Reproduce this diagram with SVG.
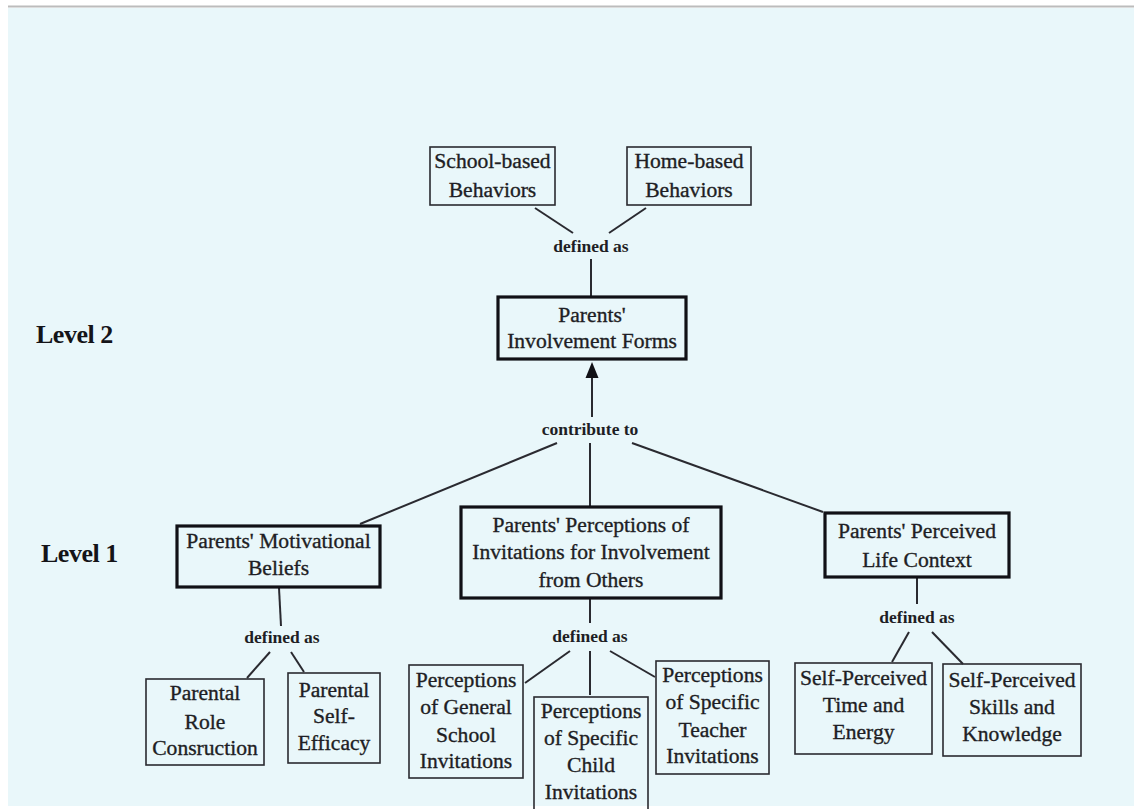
<svg xmlns="http://www.w3.org/2000/svg" width="1134" height="809" viewBox="0 0 1134 809">
  <style>
    .node text { font-family: "Liberation Serif", "Times New Roman", serif; font-size: 21.6px; fill: #1e1e24; stroke: #1e1e24; stroke-width: 0.35; text-anchor: middle; }
    .thin { fill: none; stroke: #2a2a30; stroke-width: 1.6; }
    .thick { fill: none; stroke: #111116; stroke-width: 3.2; }
    .conn line { stroke: #2a2a30; stroke-width: 2; }
    .lbl { font-family: "Liberation Serif", "Times New Roman", serif; font-weight: bold; font-size: 17.5px; fill: #1e1e24; text-anchor: middle; }
    .level { font-family: "Liberation Serif", "Times New Roman", serif; font-weight: bold; font-size: 26px; fill: #141418; letter-spacing: -0.5px; }
  </style>

  <!-- page -->
  <rect x="0" y="0" width="1134" height="809" fill="#ffffff"/>
  <rect x="8" y="8" width="1126" height="798" fill="#e9f7fa"/>
  <rect x="8" y="5.5" width="1126" height="2" fill="#bcbcbc"/>

  <!-- level labels -->
  <text class="level" x="36" y="343">Level 2</text>
  <text class="level" x="41" y="562">Level 1</text>

  <!-- connectors and relation labels -->
  <g id="connectors" class="conn">
    <line x1="535" y1="208" x2="573" y2="233"/>
    <line x1="646" y1="208" x2="609" y2="233"/>
    <line x1="591" y1="259" x2="591" y2="297"/>

    <line x1="592" y1="417" x2="592" y2="377"/>
    <path d="M592 362 L598.5 378 L585.5 378 Z" fill="#111116"/>
    <line x1="557" y1="443" x2="360" y2="524"/>
    <line x1="590" y1="443" x2="590" y2="507"/>
    <line x1="632" y1="443" x2="823" y2="512"/>

    <line x1="279" y1="588" x2="281" y2="626"/>
    <line x1="270" y1="652" x2="247" y2="678"/>
    <line x1="291" y1="652" x2="304" y2="672"/>

    <line x1="590" y1="599" x2="590" y2="623"/>
    <line x1="570" y1="651" x2="525" y2="683"/>
    <line x1="590" y1="651" x2="590" y2="695"/>
    <line x1="610" y1="651" x2="655" y2="677"/>

    <line x1="917" y1="578" x2="917" y2="604"/>
    <line x1="909" y1="632" x2="892" y2="662"/>
    <line x1="932" y1="632" x2="963" y2="664"/>

    <text class="lbl" x="591" y="252">defined as</text>
    <text class="lbl" x="590" y="435">contribute to</text>
    <text class="lbl" x="282" y="643">defined as</text>
    <text class="lbl" x="590" y="642">defined as</text>
    <text class="lbl" x="917" y="623">defined as</text>
  </g>

  <!-- level 2 -->
  <g id="school-based" class="node">
    <rect class="thin" x="430" y="147" width="125" height="58"/>
    <text x="492.5" y="168">School-based</text>
    <text x="492.5" y="197">Behaviors</text>
  </g>
  <g id="home-based" class="node">
    <rect class="thin" x="627" y="147" width="124" height="58"/>
    <text x="689" y="168">Home-based</text>
    <text x="689" y="197">Behaviors</text>
  </g>
  <g id="involvement-forms" class="node">
    <rect class="thick" x="498" y="297" width="188" height="62"/>
    <text x="592" y="322">Parents'</text>
    <text x="592" y="348">Involvement Forms</text>
  </g>

  <!-- level 1 -->
  <g id="motivational-beliefs" class="node">
    <rect class="thick" x="177" y="526" width="203" height="61"/>
    <text x="278.5" y="548">Parents' Motivational</text>
    <text x="278.5" y="575">Beliefs</text>
  </g>
  <g id="perceptions-invitations" class="node">
    <rect class="thick" x="461" y="507" width="260" height="91"/>
    <text x="591" y="532">Parents' Perceptions of</text>
    <text x="591" y="559">Invitations for Involvement</text>
    <text x="591" y="587">from Others</text>
  </g>
  <g id="life-context" class="node">
    <rect class="thick" x="825" y="513" width="184" height="64"/>
    <text x="917" y="538">Parents' Perceived</text>
    <text x="917" y="567">Life Context</text>
  </g>

  <!-- components -->
  <g id="role-construction" class="node">
    <rect class="thin" x="146" y="679" width="118" height="86"/>
    <text x="205" y="700">Parental</text>
    <text x="205" y="729">Role</text>
    <text x="205" y="755">Consruction</text>
  </g>
  <g id="self-efficacy" class="node">
    <rect class="thin" x="288" y="673" width="92" height="90"/>
    <text x="334" y="697">Parental</text>
    <text x="334" y="723">Self-</text>
    <text x="334" y="750">Efficacy</text>
  </g>
  <g id="general-school" class="node">
    <rect class="thin" x="409" y="665" width="114" height="113"/>
    <text x="466" y="687">Perceptions</text>
    <text x="466" y="714">of General</text>
    <text x="466" y="742">School</text>
    <text x="466" y="768">Invitations</text>
  </g>
  <g id="specific-child" class="node">
    <rect class="thin" x="534" y="697" width="114" height="116"/>
    <text x="591" y="718">Perceptions</text>
    <text x="591" y="745">of Specific</text>
    <text x="591" y="772">Child</text>
    <text x="591" y="799">Invitations</text>
  </g>
  <g id="specific-teacher" class="node">
    <rect class="thin" x="656" y="661" width="113" height="113"/>
    <text x="712.5" y="682">Perceptions</text>
    <text x="712.5" y="709">of Specific</text>
    <text x="712.5" y="737">Teacher</text>
    <text x="712.5" y="763">Invitations</text>
  </g>
  <g id="time-energy" class="node">
    <rect class="thin" x="795" y="663" width="137" height="91"/>
    <text x="863.5" y="685">Self-Perceived</text>
    <text x="863.5" y="712">Time and</text>
    <text x="863.5" y="739">Energy</text>
  </g>
  <g id="skills-knowledge" class="node">
    <rect class="thin" x="943" y="664" width="138" height="92"/>
    <text x="1012" y="687">Self-Perceived</text>
    <text x="1012" y="714">Skills and</text>
    <text x="1012" y="741">Knowledge</text>
  </g>
</svg>
